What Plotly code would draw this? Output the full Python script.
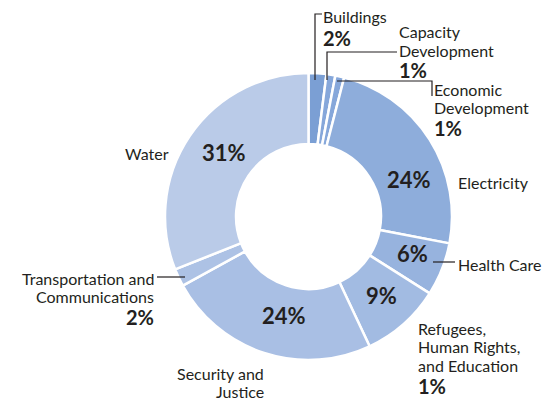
import plotly.graph_objects as go

W, H = 548, 400

categories = ["Buildings", "Capacity Development", "Economic Development", "Electricity",
              "Health Care", "Refugees, Human Rights, and Education", "Security and Justice",
              "Transportation and Communications", "Water"]
values = [2, 1, 1, 24, 6, 9, 24, 2, 31]
outer_pct = ["2%", "1%", "1%", "", "", "1%", "", "2%", ""]
colors = ["#7b9fd4", "#86a7da", "#86a7da", "#8eaddb", "#97b3de", "#a2bbe2", "#a9bfe4", "#adc2e5", "#bacbe8"]

TXT = "#231f20"
FONT = "Lato"

cx, cy, R = 308.5, 216.5, 143.5

def px(x):
    return x / W

def py(y):
    return 1 - y / H

fig = go.Figure(go.Pie(
    labels=categories, values=values, sort=False, direction="clockwise", rotation=0,
    hole=0.505, marker=dict(colors=colors, line=dict(color="white", width=2.5)),
    textinfo="none", hoverinfo="label+value", showlegend=False,
    domain=dict(x=[px(cx - R), px(cx + R)], y=[py(cy + R), py(cy - R)]),
))

ann = []

def add(text, x, y, xa="left", size=16, bold=False):
    t = f"<b>{text}</b>" if bold else text
    ann.append(dict(text=t, x=px(x), y=py(y), xref="paper", yref="paper", xanchor=xa,
                    yanchor="middle", showarrow=False, borderpad=0,
                    font=dict(family=FONT, size=size, color=TXT)))

def add_lines(lines, x, y0, step=18.5, xa="left"):
    for k, ln in enumerate(lines):
        add(ln, x, y0 + k * step, xa=xa)

# inside percentages (large slices)
inside_pos = {3: (408.5, 180), 4: (412, 253.5), 5: (381, 295), 6: (284, 315), 8: (223.5, 152.5)}
for i, (x, y) in inside_pos.items():
    add(f"{values[i]}%", x, y, xa="center", size=22, bold=True)

# outside labels
add_lines(["Buildings"], 322, 17)
add(outer_pct[0], 322, 38, size=20, bold=True)
add_lines(["Capacity", "Development"], 398, 32)
add(outer_pct[1], 398, 70, size=20, bold=True)
add_lines(["Economic", "Development"], 433, 89)
add(outer_pct[2], 433, 128, size=20, bold=True)
add_lines(["Electricity"], 457, 182)
add_lines(["Health Care"], 457, 264)
add_lines(["Refugees,", "Human Rights,", "and Education"], 417, 328)
add(outer_pct[5], 417, 386, size=20, bold=True)
add_lines(["Security and", "Justice"], 265, 373, xa="right")
add_lines(["Transportation and", "Communications"], 155, 278, xa="right")
add(outer_pct[7], 155, 317, xa="right", size=20, bold=True)
add_lines(["Water"], 170, 153, xa="right")

def path(pts):
    d = "M " + " L ".join(f"{px(x)} {py(y)}" for x, y in pts)
    return dict(type="path", path=d, xref="paper", yref="paper",
                line=dict(color=TXT, width=1.2))

shapes = [
    path([(322, 14), (315, 14), (315, 80)]),
    path([(397, 52), (327, 52), (327, 80)]),
    path([(337, 81), (432, 81), (432, 96)]),
    path([(433, 262), (455, 262)]),
    path([(157, 277), (185, 277)]),
]

fig.update_layout(width=W, height=H, margin=dict(l=0, r=0, t=0, b=0),
                  paper_bgcolor="white", plot_bgcolor="white",
                  annotations=ann, shapes=shapes)

fig.write_html("out.html", config={"displayModeBar": False},
               post_script="document.body.style.margin='0px';")
